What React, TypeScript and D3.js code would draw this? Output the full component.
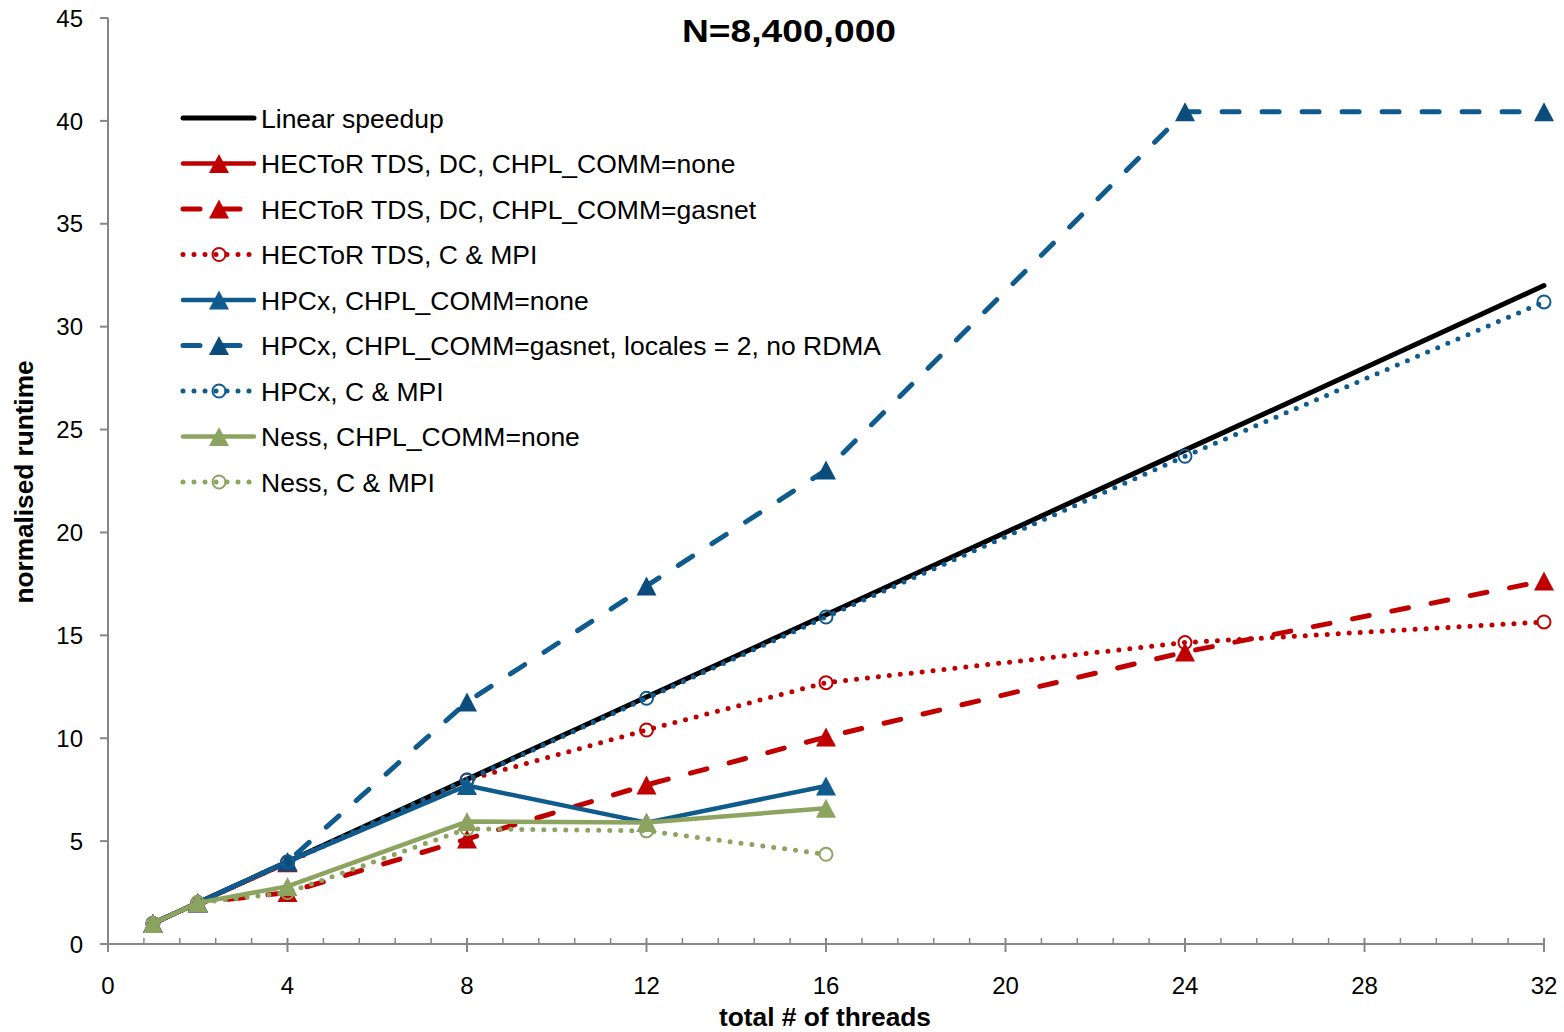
import React from "react";
import * as d3 from "d3";

const W = 1564;
const H = 1032;

const titleText = "N=8,400,000";
const xTitle = "total # of threads";
const yTitle = "normalised runtime";

const xTicks = [0, 4, 8, 12, 16, 20, 24, 28, 32];
const yTicks = [0, 5, 10, 15, 20, 25, 30, 35, 40, 45];

const linearThreads = [1, 2, 4, 8, 12, 16, 24, 32];
const linearValues = [1, 2, 4, 8, 12, 16, 24, 32];

const hectorNoneThreads = [1, 2, 4];
const hectorNoneValues = [1, 2, 3.95];

const hectorGasnetThreads = [1, 2, 4, 8, 12, 16, 24, 32];
const hectorGasnetValues = [1, 2, 2.5, 5.1, 7.73, 10.06, 14.19, 17.64];

const hectorMpiThreads = [1, 2, 4, 8, 12, 16, 24, 32];
const hectorMpiValues = [1, 2, 3.95, 7.97, 10.4, 12.7, 14.65, 15.65];

const hpcxNoneThreads = [1, 2, 4, 8, 12, 16];
const hpcxNoneValues = [1, 2, 4, 7.7, 5.9, 7.68];

const hpcxGasnetThreads = [1, 2, 4, 8, 12, 16, 24, 32];
const hpcxGasnetValues = [1, 2, 4, 11.76, 17.4, 23.03, 40.44, 40.44];

const hpcxMpiThreads = [1, 2, 4, 8, 12, 16, 24, 32];
const hpcxMpiValues = [1, 2, 4, 7.97, 11.94, 15.89, 23.7, 31.2];

const nessNoneThreads = [1, 2, 4, 8, 12, 16];
const nessNoneValues = [1, 2, 2.8, 5.95, 5.9, 6.6];

const nessMpiThreads = [1, 2, 4, 8, 12, 16];
const nessMpiValues = [1, 2, 2.5, 5.6, 5.5, 4.36];

const RED = "#C00000";
const BLUE = "#0F5B8D";
const BLUE_DARK = "#0B4C7C";
const GREEN = "#8CA460";

type Marker = "none" | "triangle" | "circle";
type Dash = "solid" | "dashed" | "dotted";

interface Series {
  name: string;
  threads: number[];
  values: number[];
  color: string;
  markerColor: string;
  dash: Dash;
  marker: Marker;
  width: number;
}

const series: Series[] = [
  { name: "Linear speedup", threads: linearThreads, values: linearValues, color: "#000000", markerColor: "#000000", dash: "solid", marker: "none", width: 5 },
  { name: "HECToR TDS, DC, CHPL_COMM=none", threads: hectorNoneThreads, values: hectorNoneValues, color: RED, markerColor: RED, dash: "solid", marker: "triangle", width: 4.5 },
  { name: "HECToR TDS, DC, CHPL_COMM=gasnet", threads: hectorGasnetThreads, values: hectorGasnetValues, color: RED, markerColor: RED, dash: "dashed", marker: "triangle", width: 5 },
  { name: "HECToR TDS, C & MPI", threads: hectorMpiThreads, values: hectorMpiValues, color: RED, markerColor: RED, dash: "dotted", marker: "circle", width: 5 },
  { name: "HPCx, CHPL_COMM=none", threads: hpcxNoneThreads, values: hpcxNoneValues, color: BLUE, markerColor: BLUE, dash: "solid", marker: "triangle", width: 4.5 },
  { name: "HPCx, CHPL_COMM=gasnet, locales = 2, no RDMA", threads: hpcxGasnetThreads, values: hpcxGasnetValues, color: BLUE, markerColor: BLUE_DARK, dash: "dashed", marker: "triangle", width: 5 },
  { name: "HPCx, C & MPI", threads: hpcxMpiThreads, values: hpcxMpiValues, color: BLUE, markerColor: BLUE, dash: "dotted", marker: "circle", width: 5 },
  { name: "Ness, CHPL_COMM=none", threads: nessNoneThreads, values: nessNoneValues, color: GREEN, markerColor: GREEN, dash: "solid", marker: "triangle", width: 4.5 },
  { name: "Ness, C & MPI", threads: nessMpiThreads, values: nessMpiValues, color: GREEN, markerColor: GREEN, dash: "dotted", marker: "circle", width: 5 },
];

const x = d3.scaleLinear().domain([0, 32]).range([108, 1544]);
const y = d3.scaleLinear().domain([0, 45]).range([944, 18]);

const AXIS = "#868686";
const FONT = "'Liberation Sans', Arial, sans-serif";

function dashArray(d: Dash): string | undefined {
  if (d === "dashed") return "17,23";
  if (d === "dotted") return "0,11";
  return undefined;
}

function MarkerShape({ kind, cx, cy, color }: { kind: Marker; cx: number; cy: number; color: string }) {
  if (kind === "triangle") {
    const w = 20;
    const h = 19;
    const p = `M${cx},${cy - h / 2}L${cx + w / 2},${cy + h / 2}L${cx - w / 2},${cy + h / 2}Z`;
    return <path d={p} fill={color} stroke="none" />;
  }
  if (kind === "circle") {
    return <circle cx={cx} cy={cy} r={6.5} fill="none" stroke={color} strokeWidth={2} />;
  }
  return null;
}

export default function App() {
  const line = d3
    .line<[number, number]>()
    .x((d) => x(d[0]))
    .y((d) => y(d[1]));

  const minorTicks = d3
    .range(1, 40)
    .map((i) => i * 0.8)
    .filter((t) => t < 32 && Math.abs(t / 4 - Math.round(t / 4)) > 1e-6);

  const legendX0 = 183;
  const legendX1 = 254;
  const legendMarkerX = 219;
  const legendTextX = 261;
  const legendY0 = 118;
  const legendStep = 45.5;

  return (
    <svg width={W} height={H} style={{ position: "absolute", left: 0, top: 0, background: "#fff" }} fontFamily={FONT}>
      <rect width={W} height={H} fill="#fff" />

      {/* axes */}
      <line x1={x(0)} x2={x(0)} y1={y(45)} y2={y(0)} stroke={AXIS} strokeWidth={2} />
      <line x1={100} x2={x(32)} y1={y(0)} y2={y(0)} stroke={AXIS} strokeWidth={2} />
      {yTicks.map((t) => (
        <g key={"yt" + t}>
          <line x1={100} x2={x(0)} y1={y(t)} y2={y(t)} stroke={AXIS} strokeWidth={2} />
          <text x={83} y={y(t)} dy="0.36em" textAnchor="end" fontSize={24} fill="#000">
            {t}
          </text>
        </g>
      ))}
      {minorTicks.map((t) => (
        <line key={"mt" + t} x1={x(t)} x2={x(t)} y1={y(0) - 6} y2={y(0)} stroke={AXIS} strokeWidth={1.5} />
      ))}
      {xTicks.map((t) => (
        <g key={"xt" + t}>
          <line x1={x(t)} x2={x(t)} y1={y(0) - 6} y2={y(0) + 8} stroke={AXIS} strokeWidth={2} />
          <text x={x(t)} y={994} textAnchor="middle" fontSize={24} fill="#000">
            {t}
          </text>
        </g>
      ))}

      {/* series */}
      {series.map((s, i) => {
        const pts: [number, number][] = s.threads.map((t, j) => [t, s.values[j]]);
        return (
          <g key={"s" + i}>
            <path
              d={line(pts) || ""}
              fill="none"
              stroke={s.color}
              strokeWidth={s.width}
              strokeDasharray={dashArray(s.dash)}
              strokeLinecap="round"
              strokeLinejoin="round"
            />
            {pts.map((p, j) => (
              <MarkerShape key={j} kind={s.marker} cx={x(p[0])} cy={y(p[1])} color={s.markerColor} />
            ))}
          </g>
        );
      })}

      {/* titles */}
      <text x={789} y={42} textAnchor="middle" fontSize={31} fontWeight="bold" textLength={214} lengthAdjust="spacingAndGlyphs">
        {titleText}
      </text>
      <text x={825} y={1026} textAnchor="middle" fontSize={25} fontWeight="bold" textLength={212} lengthAdjust="spacingAndGlyphs">
        {xTitle}
      </text>
      <text
        transform={`translate(33,482) rotate(-90)`}
        textAnchor="middle"
        fontSize={25}
        fontWeight="bold"
        textLength={243}
        lengthAdjust="spacingAndGlyphs"
      >
        {yTitle}
      </text>

      {/* legend */}
      {series.map((s, i) => {
        const ly = legendY0 + i * legendStep;
        return (
          <g key={"lg" + i}>
            <line
              x1={legendX0}
              x2={legendX1}
              y1={ly}
              y2={ly}
              stroke={s.color}
              strokeWidth={s.width}
              strokeDasharray={dashArray(s.dash)}
              strokeLinecap="round"
            />
            <MarkerShape kind={s.marker} cx={legendMarkerX} cy={ly} color={s.markerColor} />
            <text x={legendTextX} y={ly} dy="0.36em" fontSize={26.5} fill="#000">
              {s.name}
            </text>
          </g>
        );
      })}
    </svg>
  );
}
